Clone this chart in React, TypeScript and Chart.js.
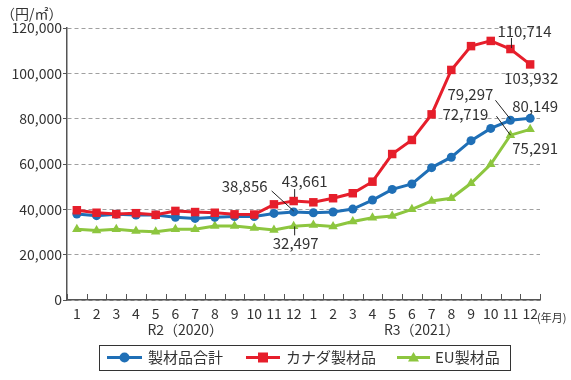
import React, { useEffect, useRef } from 'react';
import { Chart, registerables } from 'chart.js';

Chart.register(...registerables);

// ---- data ----
const monthLabels = ['1','2','3','4','5','6','7','8','9','10','11','12','1','2','3','4','5','6','7','8','9','10','11','12'];
const yearLabels = ['R2（2020）', 'R3（2021）'];
const seriesNames = ['製材品合計', 'カナダ製材品', 'EU製材品'];
const totalValues = [37900, 37200, 37800, 37500, 37500, 36500, 36000, 36500, 36800, 36800, 38200, 38856, 38500, 38800, 40100, 44100, 48800, 51200, 58400, 63000, 70300, 75700, 79297, 80149];
const canadaValues = [39600, 38500, 37900, 38300, 37600, 39300, 38800, 38500, 37800, 37700, 42200, 43661, 43100, 44900, 47100, 52200, 64400, 70600, 81900, 101500, 112000, 114300, 110714, 103932];
const euValues = [31200, 30700, 31200, 30400, 30100, 31200, 31200, 32600, 32600, 31800, 30900, 32497, 33100, 32400, 34600, 36300, 37100, 40000, 43700, 44900, 51500, 59900, 72719, 75291];
const yMin = 0;
const yMax = 120000;
const yStep = 20000;
const yUnit = '（円/㎡）';
const xUnit = '(年月)';

const FONT = '"Noto Sans CJK JP", "Noto Sans", sans-serif';
const TEXT = '#333333';
const COLORS = ['#1f6fb6', '#e61e2b', '#8dc63f'];

// annotations: dataset, index, text offset, optional leader line (relative to point)
const annotations = [
  { ds: 0, i: 11, dx: -49, dy: -26, lead: [-22, -21, 0, -1] },
  { ds: 1, i: 11, dx: 11, dy: -20, lead: [1, -12, 1, -4] },
  { ds: 2, i: 11, dx: 2, dy: 17, lead: [1, 0, 1, 9] },
  { ds: 1, i: 22, dx: 14, dy: -18, lead: [1, -11, 1, -1] },
  { ds: 1, i: 23, dx: 1, dy: 14, lead: null },
  { ds: 0, i: 22, dx: -40, dy: -26, lead: [-15, -20, 0, -1] },
  { ds: 0, i: 23, dx: 5, dy: -12, lead: null },
  { ds: 2, i: 22, dx: -45, dy: -21, lead: [-14, -19, 0, 0] },
  { ds: 2, i: 23, dx: 5, dy: 19, lead: null },
];

const overlayPlugin = {
  id: 'overlay',
  afterDatasetsDraw(chart: any) {
    const ctx = chart.ctx;
    ctx.save();
    ctx.font = `15px ${FONT}`;
    ctx.fillStyle = TEXT;
    ctx.textAlign = 'center';
    ctx.textBaseline = 'middle';
    annotations.forEach((a) => {
      const meta = chart.getDatasetMeta(a.ds);
      const pt = meta.data[a.i];
      const v = chart.data.datasets[a.ds].data[a.i] as number;
      if (a.lead) {
        ctx.strokeStyle = '#222';
        ctx.lineWidth = 1;
        ctx.beginPath();
        ctx.moveTo(pt.x + a.lead[0], pt.y + a.lead[1]);
        ctx.lineTo(pt.x + a.lead[2], pt.y + a.lead[3]);
        ctx.stroke();
      }
      ctx.fillText(v.toLocaleString('en-US'), pt.x + a.dx, pt.y + a.dy);
    });
    ctx.restore();
  },
  afterDraw(chart: any) {
    const ctx = chart.ctx;
    const xs = chart.scales.x;
    const area = chart.chartArea;
    ctx.save();
    // upward x tick marks at category boundaries
    const step = xs.getPixelForValue(1) - xs.getPixelForValue(0);
    ctx.strokeStyle = '#555';
    ctx.lineWidth = 1;
    for (let i = 0; i <= monthLabels.length; i++) {
      const x = Math.round(xs.getPixelForValue(0) - step / 2 + i * step) + 0.5;
      ctx.beginPath();
      ctx.moveTo(x, area.bottom);
      ctx.lineTo(x, area.bottom - 6);
      ctx.stroke();
    }
    // year labels
    ctx.fillStyle = TEXT;
    ctx.font = `14px ${FONT}`;
    ctx.textAlign = 'center';
    ctx.textBaseline = 'middle';
    yearLabels.forEach((lab, k) => {
      const cx = (xs.getPixelForValue(k * 12 + 5) + xs.getPixelForValue(k * 12 + 6)) / 2;
      ctx.fillText(lab, cx, area.bottom + 30);
    });
    // units
    ctx.font = `11px ${FONT}`;
    ctx.textAlign = 'left';
    ctx.fillText(xUnit, area.right - 3, area.bottom + 18);
    ctx.font = `14px ${FONT}`;
    ctx.fillText(yUnit, 1, 14);
    // legend
    const ly = 357.5;
    ctx.strokeStyle = '#333';
    ctx.lineWidth = 1;
    ctx.strokeRect(99.5, 345.5, 411, 25);
    const items = [
      { x1: 107, x2: 142, tx: 148 },
      { x1: 246, x2: 280, tx: 286 },
      { x1: 397, x2: 430, tx: 435 },
    ];
    items.forEach((it, k) => {
      const ds = chart.data.datasets[k];
      ctx.strokeStyle = ds.borderColor;
      ctx.lineWidth = 3;
      ctx.beginPath();
      ctx.moveTo(it.x1, ly);
      ctx.lineTo(it.x2, ly);
      ctx.stroke();
      const cx = (it.x1 + it.x2) / 2;
      ctx.fillStyle = ds.borderColor;
      ctx.beginPath();
      if (ds.pointStyle === 'circle') {
        ctx.arc(cx, ly, 5, 0, Math.PI * 2);
      } else if (ds.pointStyle === 'rect') {
        ctx.rect(cx - 5, ly - 5, 10, 10);
      } else {
        ctx.moveTo(cx, ly - 5.5);
        ctx.lineTo(cx + 5.5, ly + 4);
        ctx.lineTo(cx - 5.5, ly + 4);
        ctx.closePath();
      }
      ctx.fill();
      ctx.fillStyle = TEXT;
      ctx.font = `15px ${FONT}`;
      ctx.textAlign = 'left';
      ctx.fillText(ds.label, it.tx, ly);
    });
    ctx.restore();
  },
};

export default function App() {
  const ref = useRef<HTMLCanvasElement | null>(null);
  useEffect(() => {
    if (!ref.current) return;
    const mk = (k: number, data: number[], style: string, r: number, order: number) => ({
      label: seriesNames[k],
      data,
      borderColor: COLORS[k],
      backgroundColor: COLORS[k],
      borderWidth: 3,
      pointStyle: style,
      pointRadius: r,
      pointBorderWidth: 0,
      pointBackgroundColor: COLORS[k],
      tension: 0,
      order,
    });
    const chart = new Chart(ref.current, {
      type: 'line',
      data: {
        labels: monthLabels,
        datasets: [
          mk(0, totalValues, 'circle', 4.5, 1),
          mk(1, canadaValues, 'rect', 6, 0),
          mk(2, euValues, 'triangle', 5.5, 2),
        ],
      },
      plugins: [overlayPlugin],
      options: {
        animation: false,
        responsive: false,
        devicePixelRatio: 1,
        layout: { padding: { top: 28, right: 31, left: 0, bottom: 0 } },
        plugins: { legend: { display: false }, tooltip: { enabled: false } },
        scales: {
          x: {
            offset: true,
            afterFit: (s: any) => { s.height = 80; },
            grid: { display: false, drawTicks: false },
            border: { display: true, color: '#555', width: 1.5 },
            ticks: {
              color: TEXT,
              font: { family: FONT, size: 14 },
              padding: 5,
              maxRotation: 0,
              autoSkip: false,
            },
          },
          y: {
            min: yMin,
            max: yMax,
            afterFit: (s: any) => { s.width = 67; },
            grid: {
              color: '#a0a0a0',
              lineWidth: 1,
              drawTicks: true,
              tickLength: 4,
              tickColor: '#555',
              tickBorderDash: [],
            },
            border: { display: true, color: '#555', width: 1.5, dash: [4, 3] },
            ticks: {
              stepSize: yStep,
              color: TEXT,
              font: { family: FONT, size: 14 },
              padding: 1,
              callback: (v: any) => Number(v).toLocaleString('en-US'),
            },
          },
        },
      },
    } as any);
    return () => chart.destroy();
  }, []);
  return (
    <div style={{ position: 'fixed', left: 0, top: 0, width: 571, height: 380, background: '#fff' }}>
      <canvas ref={ref} width={571} height={380} style={{ width: 571, height: 380 }} />
    </div>
  );
}
